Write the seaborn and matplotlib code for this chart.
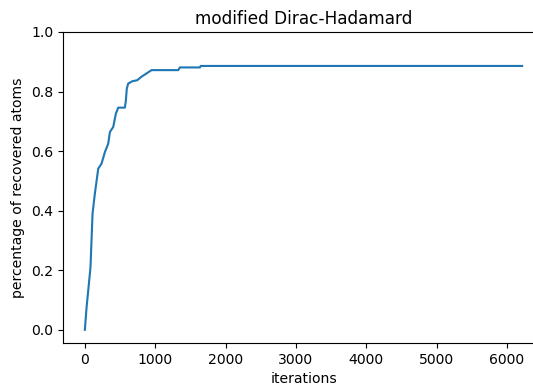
import matplotlib
matplotlib.use("Agg")
import matplotlib.pyplot as plt
import seaborn as sns
import pandas as pd

iterations = [0, 24, 52, 80, 109, 142, 190, 237, 285, 332, 356, 403, 441, 474, 569,
              583, 596, 616, 678, 744, 806, 877, 948, 1327, 1351, 1636, 1646, 6216]
recovered = [0.0, 0.075, 0.142, 0.21, 0.39, 0.457, 0.541, 0.558, 0.597, 0.625, 0.664,
             0.681, 0.726, 0.746, 0.746, 0.770, 0.810, 0.827, 0.835, 0.838, 0.850, 0.861,
             0.872, 0.872, 0.881, 0.881, 0.886, 0.886]

df = pd.DataFrame({"iterations": iterations, "recovered": recovered})

dpi = 101
fig = plt.figure(figsize=(533 / dpi, 385 / dpi), dpi=dpi)
ax = fig.add_axes([63 / 533, 42 / 385, (544 - 63) / 533, (343 - 32) / 385])
sns.lineplot(data=df, x="iterations", y="recovered", ax=ax, sort=False,
             estimator=None, color="#1f77b4", linewidth=1.5)
ax.set_ylim(top=1.0)
ax.spines["right"].set_visible(False)
ax.set_title("modified Dirac-Hadamard", fontsize=12)
ax.set_xlabel("iterations", fontsize=10)
ax.set_ylabel("percentage of recovered atoms", fontsize=10)
ax.tick_params(labelsize=10)
fig.savefig("out.png", dpi=dpi)
